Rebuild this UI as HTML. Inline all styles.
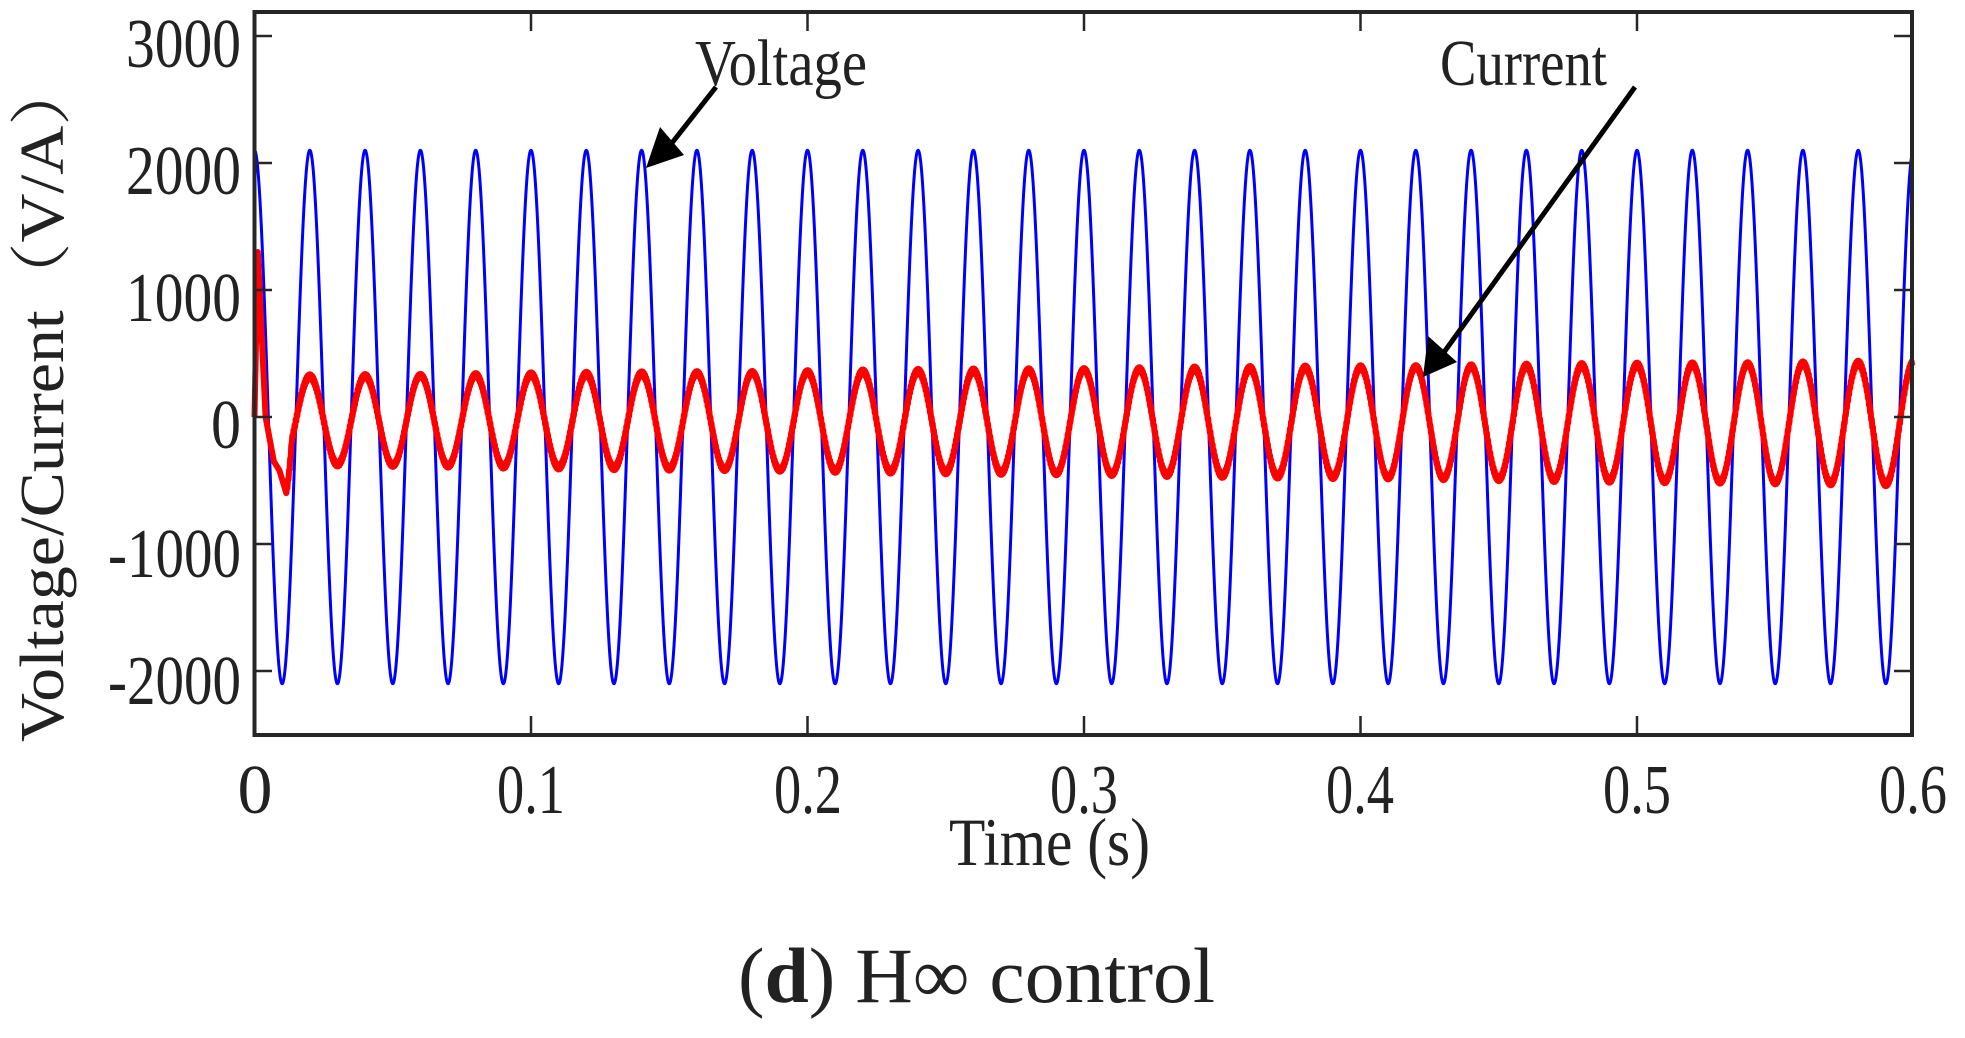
<!DOCTYPE html>
<html><head><meta charset="utf-8"><style>
html,body{margin:0;padding:0;background:#fff;}
svg{display:block;}
text{font-family:"Liberation Serif","Noto Serif CJK SC",serif;fill:#222;}
</style></head><body>
<svg id="s" width="1965" height="1038" viewBox="0 0 1965 1038" xmlns="http://www.w3.org/2000/svg">
<rect width="1965" height="1038" fill="#fff"/>
<g id="series"></g>
<rect x="254.5" y="12" width="1657.5" height="723" fill="none" stroke="#262626" stroke-width="4"/>
<g stroke="#262626" stroke-width="2.5" id="ticks"></g>
<g font-size="70" text-anchor="end">
<text x="241" y="67" textLength="115" lengthAdjust="spacingAndGlyphs">3000</text>
<text x="241" y="194" textLength="115" lengthAdjust="spacingAndGlyphs">2000</text>
<text x="241" y="321" textLength="115" lengthAdjust="spacingAndGlyphs">1000</text>
<text x="241" y="448" textLength="30" lengthAdjust="spacingAndGlyphs">0</text>
<text x="241" y="577" textLength="133" lengthAdjust="spacingAndGlyphs">-1000</text>
<text x="241" y="704" textLength="133" lengthAdjust="spacingAndGlyphs">-2000</text>
</g>
<g font-size="70" text-anchor="middle">
<text x="255" y="813">0</text>
<text x="531" y="813" textLength="68" lengthAdjust="spacingAndGlyphs">0.1</text>
<text x="808" y="813" textLength="68" lengthAdjust="spacingAndGlyphs">0.2</text>
<text x="1084" y="813" textLength="68" lengthAdjust="spacingAndGlyphs">0.3</text>
<text x="1360" y="813" textLength="68" lengthAdjust="spacingAndGlyphs">0.4</text>
<text x="1637" y="813" textLength="68" lengthAdjust="spacingAndGlyphs">0.5</text>
<text x="1913" y="813" textLength="68" lengthAdjust="spacingAndGlyphs">0.6</text>
</g>
<text x="949" y="865" font-size="68" textLength="201" lengthAdjust="spacingAndGlyphs" fill="#000">Time (s)</text>
<text transform="translate(63,742) rotate(-90)" font-size="62" textLength="684" lengthAdjust="spacingAndGlyphs" fill="#000">Voltage/Current（V/A）</text>
<text x="695" y="85" font-size="66" textLength="172" lengthAdjust="spacingAndGlyphs" fill="#000">Voltage</text>
<text x="1440" y="85" font-size="66" textLength="167" lengthAdjust="spacingAndGlyphs" fill="#000">Current</text>
<line x1="716" y1="87" x2="668" y2="148" stroke="#000" stroke-width="5"/>
<polygon points="660,127 684,155 646,168" fill="#000"/>
<line x1="1635" y1="87" x2="1442" y2="355" stroke="#000" stroke-width="5"/>
<polygon points="1428,336 1457,362 1423,377" fill="#000"/>
<text x="738" y="1002" font-size="78" textLength="477" lengthAdjust="spacingAndGlyphs" fill="#000">(<tspan font-weight="bold">d</tspan>) H∞ control</text>
</svg>
<script>
(function(){
var X=function(t){return 254.5+t*2765;},Y=function(v){return 417-v*0.127;};
var ns="http://www.w3.org/2000/svg";
var tk=document.getElementById('ticks');
function ln(a,b,c,d){var l=document.createElementNS(ns,'line');l.setAttribute('x1',a);l.setAttribute('y1',b);l.setAttribute('x2',c);l.setAttribute('y2',d);tk.appendChild(l);}
for(var i=1;i<=5;i++){var x=X(i*0.1);ln(x,14,x,31);ln(x,733,x,716);}
[3000,2000,1000,0,-1000,-2000].forEach(function(v){var y=Y(v);ln(256,y,272,y);ln(1910,y,1894,y);});
var g=document.getElementById('series');
var N=6000,T=0.5995,pv="M"+X(0)+","+Y(0),pc="";
for(var k=0;k<=N;k++){var t=k/N*T;pv+=" L"+X(t).toFixed(2)+","+Y(2100*Math.cos(2*Math.PI*50*t)).toFixed(2);}
var pts=[[0,0],[0.0012,1300],[0.004,0],[0.007,-350],[0.009,-420],[0.0115,-600]];
function cur(t){
 if(t<0.0115){for(var j=0;j<pts.length-1;j++){if(t<=pts[j+1][0]){var a=pts[j],b=pts[j+1];return a[1]+(b[1]-a[1])*(t-a[0])/(b[0]-a[0]);}}}
 var f=t/0.6,A=340+140*f,off=-25-25*f;
 var v=A*Math.cos(2*Math.PI*50*t)+off;
 if(t<0.0135){var w=(t-0.0115)/0.002;v=-600*(1-w)+v*w;}
 return v+18*Math.sin(2*Math.PI*2500*t);
}
for(var k=0;k<=N;k++){var t=k/N*T;pc+=(k?" L":"M")+X(t).toFixed(2)+","+Y(cur(t)).toFixed(2);}
function path(d,c,w){var p=document.createElementNS(ns,'path');p.setAttribute('d',d);p.setAttribute('fill','none');p.setAttribute('stroke',c);p.setAttribute('stroke-width',w);p.setAttribute('stroke-linejoin','round');g.appendChild(p);}
path(pv,'#0000ff',3);path(pc,'#ff0000',6);
})();
</script>
</body></html>
